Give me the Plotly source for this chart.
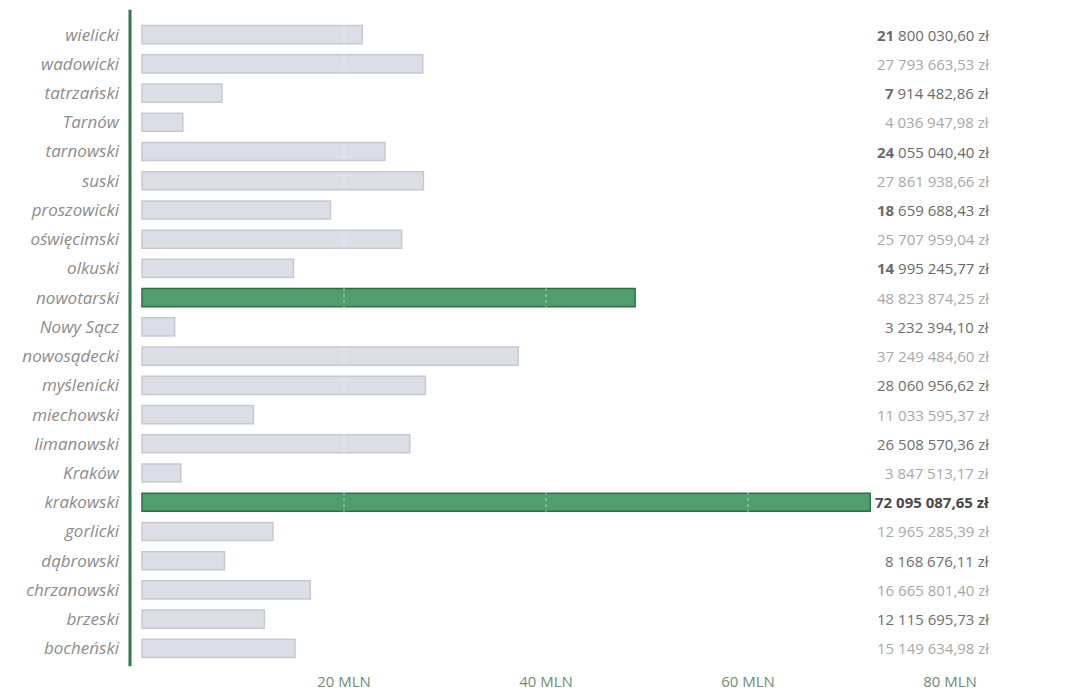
import plotly.graph_objects as go

categories = ["bocheński", "brzeski", "chrzanowski", "dąbrowski", "gorlicki", "krakowski",
              "Kraków", "limanowski", "miechowski", "myślenicki", "nowosądecki", "Nowy Sącz",
              "nowotarski", "olkuski", "oświęcimski", "proszowicki", "suski", "tarnowski",
              "Tarnów", "tatrzański", "wadowicki", "wielicki"]
values = [15149634.98, 12115695.73, 16665801.40, 8168676.11, 12965285.39, 72095087.65,
          3847513.17, 26508570.36, 11033595.37, 28060956.62, 37249484.60, 3232394.10,
          48823874.25, 14995245.77, 25707959.04, 18659688.43, 27861938.66, 24055040.40,
          4036947.98, 7914482.86, 27793663.53, 21800030.60]
highlighted = ["krakowski", "nowotarski"]
tick_values = [20e6, 40e6, 60e6, 80e6]
tick_labels = ["20 MLN", "40 MLN", "60 MLN", "80 MLN"]

GREY_FILL, GREY_LINE = "#dcdee7", "#c6c9d2"
GREEN_FILL, GREEN_LINE = "#4f9e6c", "#2e6e45"


def fmt(v):
    s = f"{v:,.2f}"
    intpart, dec = s.split(".")
    return intpart.replace(",", " ") + "," + dec + " zł"


fills = [GREEN_FILL if c in highlighted else GREY_FILL for c in categories]
lines = [GREEN_LINE if c in highlighted else GREY_LINE for c in categories]

fig = go.Figure(go.Bar(
    y=categories, x=values, orientation="h",
    marker=dict(color=fills, line=dict(color=lines, width=1.5)),
    width=0.62, hoverinfo="skip",
))

# figure is drawn inside the page body (8px offset), so use figure-local pixels
W, H = 1078, 685
L, R = 122, 992
T, B = 12, 655
px_per_unit = 10.1 / 1e6
zero_px = 134
xmin = -(zero_px - L) / px_per_unit
xmax = xmin + (R - L) / px_per_unit

n = len(categories)
annotations = []
for i, (c, v) in enumerate(zip(categories, values)):
    row_from_top = n - 1 - i
    dark = row_from_top % 2 == 0
    text = fmt(v)
    first, rest = text.split(" ", 1)
    if c == "krakowski":
        text = "<b>" + text + "</b>"
        color = "#4a4a4a"
    elif dark and row_from_top < 10:
        text = "<b>" + first + "</b> " + rest
        color = "#6a6a6a"
    elif dark:
        color = "#6e6e6e"
    else:
        color = "#a8a8a8"
    annotations.append(dict(
        x=(983 - L) / (R - L), xref="paper", y=c, yref="y",
        text=text, showarrow=False, xanchor="right", yanchor="middle",
        font=dict(family="Open Sans", size=15, color=color),
    ))

shapes = [dict(type="line", xref="paper", yref="paper", x0=0, x1=0, y0=-0.005, y1=1.016,
               line=dict(color="#2f7a4b", width=3))]
for t in tick_values:
    shapes.append(dict(type="line", xref="x", yref="paper", x0=t, x1=t, y0=0, y1=1,
                       line=dict(color="rgba(255,255,255,0.55)", width=1, dash="dot"),
                       layer="above"))

fig.update_layout(
    width=W, height=H,
    margin=dict(l=L, r=W - R, t=T, b=H - B, autoexpand=False),
    paper_bgcolor="white", plot_bgcolor="white",
    showlegend=False,
    xaxis=dict(range=[xmin, xmax], tickvals=tick_values, ticktext=tick_labels,
               showgrid=False, zeroline=False, showline=False, automargin=False,
               ticks="", ticklabelstandoff=8,
               tickfont=dict(family="Open Sans", size=15, color="#6f8c77")),
    yaxis=dict(categoryorder="array", categoryarray=categories, range=[-0.5, n - 0.5],
               showgrid=False, zeroline=False, showline=False, ticks="", automargin=False,
               ticklabelstandoff=10,
               tickfont=dict(family="Open Sans", size=17, color="#8c8c8c", style="italic")),
    annotations=annotations,
    shapes=shapes,
)

fig.write_html("out.html")
